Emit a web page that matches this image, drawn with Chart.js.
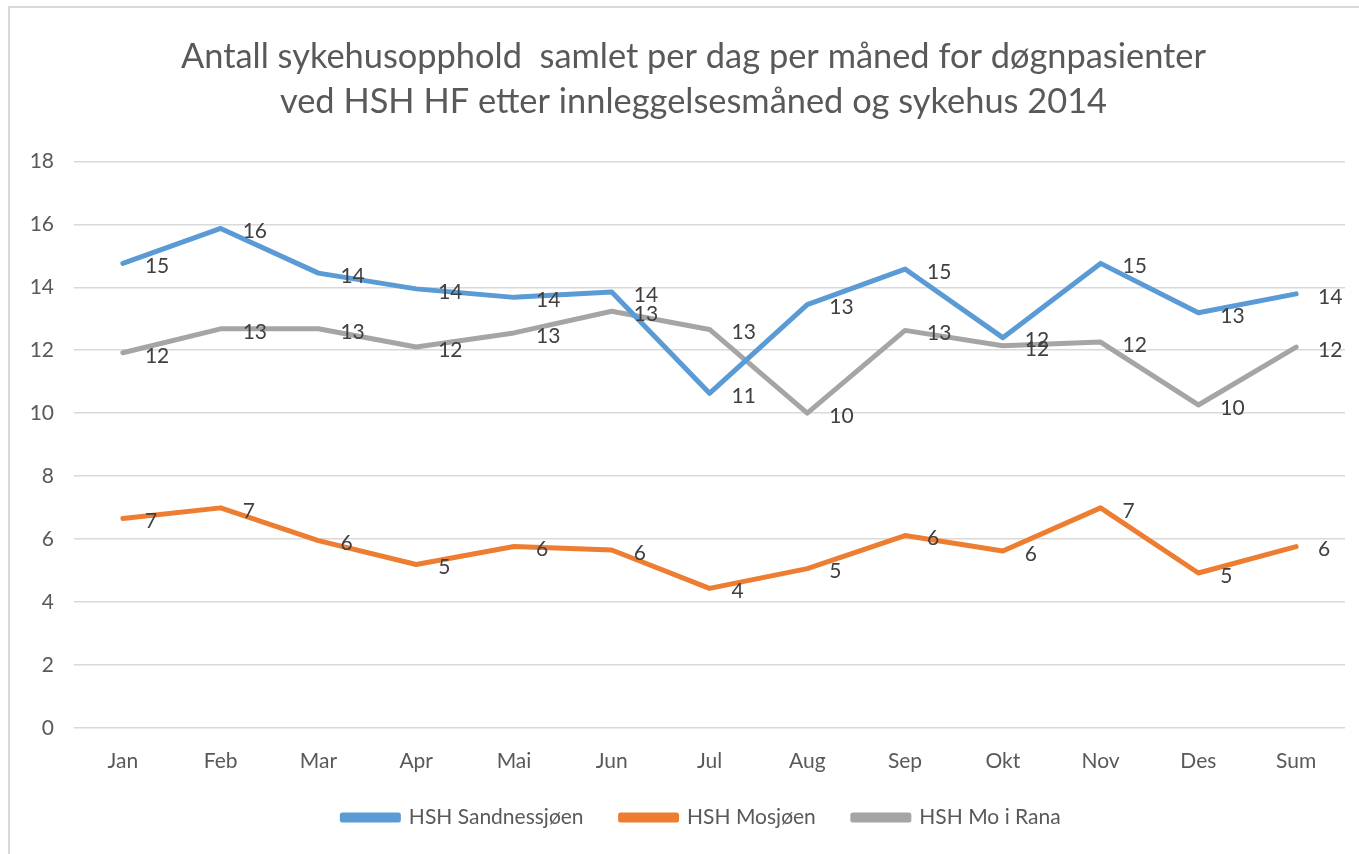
<!DOCTYPE html>
<html>
<head>
<meta charset="utf-8">
<script src="https://cdn.jsdelivr.net/npm/chart.js@4"></script>
<style>
  html, body { margin: 0; padding: 0; background: #fff; }
  #wrap { width: 1359px; height: 854px; }
</style>
</head>
<body>
<div id="wrap"><canvas id="chart"></canvas></div>
<script>
// Data
const months = ["Jan", "Feb", "Mar", "Apr", "Mai", "Jun", "Jul", "Aug", "Sep", "Okt", "Nov", "Des", "Sum"];
const sandnessjoen = [14.76, 15.87, 14.45, 13.95, 13.68, 13.85, 10.63, 13.45, 14.58, 12.4, 14.76, 13.19, 13.79];
const mosjoen = [6.65, 6.99, 5.95, 5.19, 5.76, 5.65, 4.43, 5.06, 6.11, 5.62, 6.99, 4.92, 5.76];
const moIRana = [11.92, 12.68, 12.68, 12.1, 12.55, 13.24, 12.66, 10.0, 12.63, 12.14, 12.26, 10.26, 12.1];
const yTicks = [0, 2, 4, 6, 8, 10, 12, 14, 16, 18];

const textColor = "#595959";
const fontFamily = "Lato, 'Open Sans', sans-serif";

// light frame on the left and top like the original
const framePlugin = {
  id: "frame",
  beforeDraw(chart) {
    const ctx = chart.ctx;
    ctx.save();
    ctx.fillStyle = "#fff";
    ctx.fillRect(0, 0, chart.width, chart.height);
    ctx.strokeStyle = "#d9d9d9";
    ctx.lineWidth = 2;
    ctx.beginPath();
    ctx.moveTo(9, chart.height);
    ctx.lineTo(9, 7);
    ctx.lineTo(chart.width, 7);
    ctx.stroke();
    ctx.restore();
  }
};

// title and legend sit a bit right of the canvas centre in the original;
// the x axis is squeezed, so let its labels spill below its box
const nudgePlugin = {
  id: "nudge",
  afterLayout(chart) {
    chart.legend.left += 24;
    chart.legend.right += 24;
    chart.titleBlock.left += 16;
    chart.titleBlock.right += 16;
    chart.scales.x.bottom = chart.height;
  }
};

// value labels to the right of each point, rounded like Excel
const labelPlugin = {
  id: "pointLabels",
  afterDatasetsDraw(chart) {
    const ctx = chart.ctx;
    ctx.save();
    ctx.font = "21px " + fontFamily;
    ctx.fillStyle = "#404040";
    ctx.textAlign = "left";
    ctx.textBaseline = "middle";
    chart.data.datasets.forEach((ds, i) => {
      chart.getDatasetMeta(i).data.forEach((pt, j) => {
        ctx.fillText(Math.round(ds.data[j]), pt.x + 22, pt.y + 3);
      });
    });
    ctx.restore();
  }
};

new Chart(document.getElementById("chart"), {
  type: "line",
  data: {
    labels: months,
    datasets: [
      { label: "HSH Sandnessjøen", data: sandnessjoen, borderColor: "#5b9bd5", backgroundColor: "#5b9bd5" },
      { label: "HSH Mosjøen", data: mosjoen, borderColor: "#ed7d31", backgroundColor: "#ed7d31" },
      { label: "HSH Mo i Rana", data: moIRana, borderColor: "#a5a5a5", backgroundColor: "#a5a5a5" }
    ]
  },
  options: {
    responsive: true,
    maintainAspectRatio: false,
    animation: false,
    elements: {
      line: { borderWidth: 5, tension: 0, borderCapStyle: "round", borderJoinStyle: "round" },
      point: { radius: 0, hoverRadius: 0 }
    },
    layout: { padding: { left: 10, right: 14, top: 0, bottom: 16 } },
    plugins: {
      title: {
        display: true,
        text: ["Antall sykehusopphold  samlet per dag per måned for døgnpasienter", "ved HSH HF etter innleggelsesmåned og sykehus 2014"],
        color: textColor,
        font: { family: fontFamily, size: 34.4, weight: "normal", lineHeight: 1.3 },
        padding: { top: 35, bottom: 37 }
      },
      legend: {
        position: "bottom",
        labels: {
          color: textColor,
          font: { family: fontFamily, size: 21 },
          boxWidth: 56,
          boxHeight: 5,
          padding: 37
        }
      },
      tooltip: { enabled: false }
    },
    scales: {
      x: {
        offset: true,
        afterFit(axis) { axis.height = axis.height - 17; },
        grid: { display: false },
        border: { display: false },
        ticks: { color: textColor, font: { family: fontFamily, size: 21 }, padding: 13 }
      },
      y: {
        min: 0,
        max: 18,
        afterBuildTicks(axis) { axis.ticks = yTicks.map(v => ({ value: v })); },
        afterFit(axis) { axis.width = 64; },
        grid: { color: "#d9d9d9", lineWidth: 1.5, drawTicks: false },
        border: { display: false },
        ticks: { color: textColor, font: { family: fontFamily, size: 21 }, padding: 20 }
      }
    }
  },
  plugins: [framePlugin, nudgePlugin, labelPlugin]
});
</script>
</body>
</html>
